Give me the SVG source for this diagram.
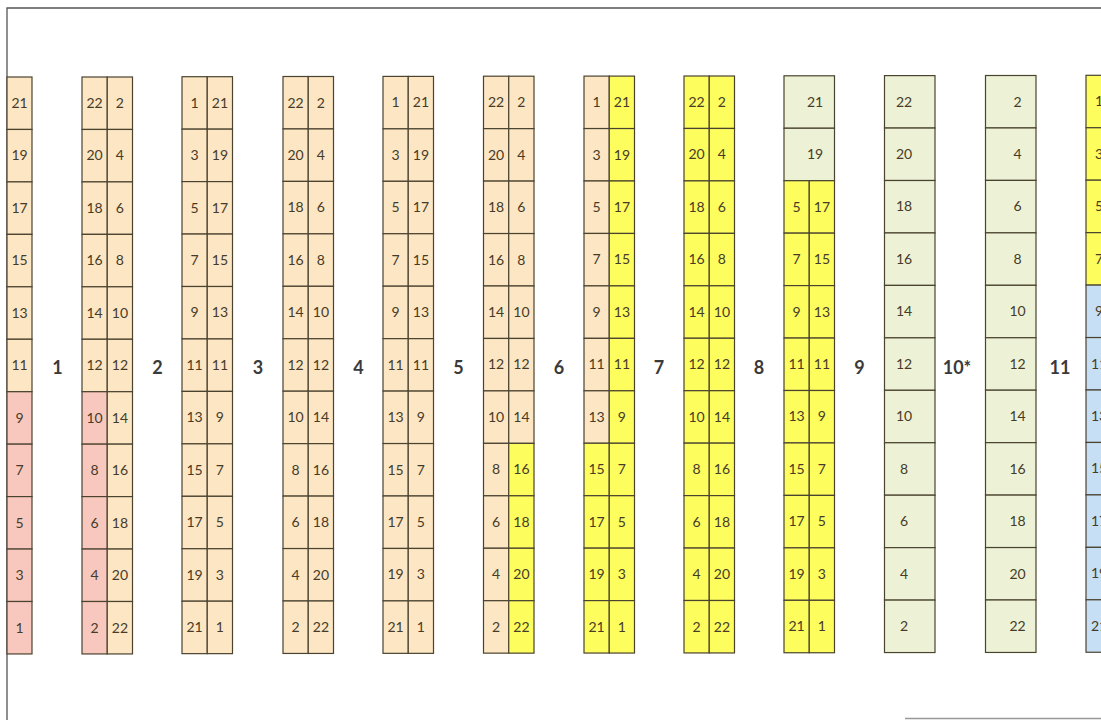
<svg xmlns="http://www.w3.org/2000/svg" width="1101" height="720" viewBox="0 0 1101 720">
<style>
rect{stroke:#4a4330;stroke-width:1.2}
rect.bg{fill:#fff;stroke:none}
.p{fill:#fce6c4}.k{fill:#f8c8be}.y{fill:#fdfd5e}.g{fill:#edf2d6}.b{fill:#c7dff4}
text{font-family:Lato,"Open Sans","Liberation Sans",sans-serif;fill:#463b28;text-anchor:middle}
.t text{font-size:14px}
.l{font-size:18px;font-weight:bold;fill:#3a3a3a}
</style>
<rect class="bg" x="0" y="0" width="1101" height="720"/>
<g id="frame" fill="none" stroke="#555" stroke-width="1.3">
<path d="M7,720 V8 H1101"/>
<path d="M905,718.5 H1101" stroke="#999"/>
</g>

<g id="col-a" class="t" transform="translate(7,77)">
<rect class="p" x="0" y="0" width="25" height="52.45"/>
<rect class="p" x="0" y="52.45" width="25" height="52.45"/>
<rect class="p" x="0" y="104.9" width="25" height="52.45"/>
<rect class="p" x="0" y="157.35" width="25" height="52.45"/>
<rect class="p" x="0" y="209.8" width="25" height="52.45"/>
<rect class="p" x="0" y="262.25" width="25" height="52.45"/>
<rect class="k" x="0" y="314.7" width="25" height="52.45"/>
<rect class="k" x="0" y="367.15" width="25" height="52.45"/>
<rect class="k" x="0" y="419.6" width="25" height="52.45"/>
<rect class="k" x="0" y="472.05" width="25" height="52.45"/>
<rect class="k" x="0" y="524.5" width="25" height="52.45"/>
<text x="12.5" y="31">21</text><text x="12.5" y="83.45">19</text><text x="12.5" y="135.9">17</text><text x="12.5" y="188.35">15</text><text x="12.5" y="240.8">13</text><text x="12.5" y="293.25">11</text><text x="12.5" y="345.7">9</text><text x="12.5" y="398.15">7</text><text x="12.5" y="450.6">5</text><text x="12.5" y="503.05">3</text><text x="12.5" y="555.5">1</text>
</g>

<g id="col-b" class="t" transform="translate(82,77)">
<rect class="p" x="0" y="0" width="25.25" height="52.45"/><rect class="p" x="25.25" y="0" width="25.25" height="52.45"/>
<rect class="p" x="0" y="52.45" width="25.25" height="52.45"/><rect class="p" x="25.25" y="52.45" width="25.25" height="52.45"/>
<rect class="p" x="0" y="104.9" width="25.25" height="52.45"/><rect class="p" x="25.25" y="104.9" width="25.25" height="52.45"/>
<rect class="p" x="0" y="157.35" width="25.25" height="52.45"/><rect class="p" x="25.25" y="157.35" width="25.25" height="52.45"/>
<rect class="p" x="0" y="209.8" width="25.25" height="52.45"/><rect class="p" x="25.25" y="209.8" width="25.25" height="52.45"/>
<rect class="p" x="0" y="262.25" width="25.25" height="52.45"/><rect class="p" x="25.25" y="262.25" width="25.25" height="52.45"/>
<rect class="k" x="0" y="314.7" width="25.25" height="52.45"/><rect class="p" x="25.25" y="314.7" width="25.25" height="52.45"/>
<rect class="k" x="0" y="367.15" width="25.25" height="52.45"/><rect class="p" x="25.25" y="367.15" width="25.25" height="52.45"/>
<rect class="k" x="0" y="419.6" width="25.25" height="52.45"/><rect class="p" x="25.25" y="419.6" width="25.25" height="52.45"/>
<rect class="k" x="0" y="472.05" width="25.25" height="52.45"/><rect class="p" x="25.25" y="472.05" width="25.25" height="52.45"/>
<rect class="k" x="0" y="524.5" width="25.25" height="52.45"/><rect class="p" x="25.25" y="524.5" width="25.25" height="52.45"/>
<text x="12.6" y="31">22</text><text x="12.6" y="83.45">20</text><text x="12.6" y="135.9">18</text><text x="12.6" y="188.35">16</text><text x="12.6" y="240.8">14</text><text x="12.6" y="293.25">12</text><text x="12.6" y="345.7">10</text><text x="12.6" y="398.15">8</text><text x="12.6" y="450.6">6</text><text x="12.6" y="503.05">4</text><text x="12.6" y="555.5">2</text>
<text x="37.9" y="31">2</text><text x="37.9" y="83.45">4</text><text x="37.9" y="135.9">6</text><text x="37.9" y="188.35">8</text><text x="37.9" y="240.8">10</text><text x="37.9" y="293.25">12</text><text x="37.9" y="345.7">14</text><text x="37.9" y="398.15">16</text><text x="37.9" y="450.6">18</text><text x="37.9" y="503.05">20</text><text x="37.9" y="555.5">22</text>
</g>

<g id="col-c" class="t" transform="translate(182,76.7)">
<rect class="p" x="0" y="0" width="25.25" height="52.45"/><rect class="p" x="25.25" y="0" width="25.25" height="52.45"/>
<rect class="p" x="0" y="52.45" width="25.25" height="52.45"/><rect class="p" x="25.25" y="52.45" width="25.25" height="52.45"/>
<rect class="p" x="0" y="104.9" width="25.25" height="52.45"/><rect class="p" x="25.25" y="104.9" width="25.25" height="52.45"/>
<rect class="p" x="0" y="157.35" width="25.25" height="52.45"/><rect class="p" x="25.25" y="157.35" width="25.25" height="52.45"/>
<rect class="p" x="0" y="209.8" width="25.25" height="52.45"/><rect class="p" x="25.25" y="209.8" width="25.25" height="52.45"/>
<rect class="p" x="0" y="262.25" width="25.25" height="52.45"/><rect class="p" x="25.25" y="262.25" width="25.25" height="52.45"/>
<rect class="p" x="0" y="314.7" width="25.25" height="52.45"/><rect class="p" x="25.25" y="314.7" width="25.25" height="52.45"/>
<rect class="p" x="0" y="367.15" width="25.25" height="52.45"/><rect class="p" x="25.25" y="367.15" width="25.25" height="52.45"/>
<rect class="p" x="0" y="419.6" width="25.25" height="52.45"/><rect class="p" x="25.25" y="419.6" width="25.25" height="52.45"/>
<rect class="p" x="0" y="472.05" width="25.25" height="52.45"/><rect class="p" x="25.25" y="472.05" width="25.25" height="52.45"/>
<rect class="p" x="0" y="524.5" width="25.25" height="52.45"/><rect class="p" x="25.25" y="524.5" width="25.25" height="52.45"/>
<text x="12.6" y="31">1</text><text x="12.6" y="83.45">3</text><text x="12.6" y="135.9">5</text><text x="12.6" y="188.35">7</text><text x="12.6" y="240.8">9</text><text x="12.6" y="293.25">11</text><text x="12.6" y="345.7">13</text><text x="12.6" y="398.15">15</text><text x="12.6" y="450.6">17</text><text x="12.6" y="503.05">19</text><text x="12.6" y="555.5">21</text>
<text x="37.9" y="31">21</text><text x="37.9" y="83.45">19</text><text x="37.9" y="135.9">17</text><text x="37.9" y="188.35">15</text><text x="37.9" y="240.8">13</text><text x="37.9" y="293.25">11</text><text x="37.9" y="345.7">9</text><text x="37.9" y="398.15">7</text><text x="37.9" y="450.6">5</text><text x="37.9" y="503.05">3</text><text x="37.9" y="555.5">1</text>
</g>

<g id="col-d" class="t" transform="translate(283,76.5)">
<rect class="p" x="0" y="0" width="25.25" height="52.45"/><rect class="p" x="25.25" y="0" width="25.25" height="52.45"/>
<rect class="p" x="0" y="52.45" width="25.25" height="52.45"/><rect class="p" x="25.25" y="52.45" width="25.25" height="52.45"/>
<rect class="p" x="0" y="104.9" width="25.25" height="52.45"/><rect class="p" x="25.25" y="104.9" width="25.25" height="52.45"/>
<rect class="p" x="0" y="157.35" width="25.25" height="52.45"/><rect class="p" x="25.25" y="157.35" width="25.25" height="52.45"/>
<rect class="p" x="0" y="209.8" width="25.25" height="52.45"/><rect class="p" x="25.25" y="209.8" width="25.25" height="52.45"/>
<rect class="p" x="0" y="262.25" width="25.25" height="52.45"/><rect class="p" x="25.25" y="262.25" width="25.25" height="52.45"/>
<rect class="p" x="0" y="314.7" width="25.25" height="52.45"/><rect class="p" x="25.25" y="314.7" width="25.25" height="52.45"/>
<rect class="p" x="0" y="367.15" width="25.25" height="52.45"/><rect class="p" x="25.25" y="367.15" width="25.25" height="52.45"/>
<rect class="p" x="0" y="419.6" width="25.25" height="52.45"/><rect class="p" x="25.25" y="419.6" width="25.25" height="52.45"/>
<rect class="p" x="0" y="472.05" width="25.25" height="52.45"/><rect class="p" x="25.25" y="472.05" width="25.25" height="52.45"/>
<rect class="p" x="0" y="524.5" width="25.25" height="52.45"/><rect class="p" x="25.25" y="524.5" width="25.25" height="52.45"/>
<text x="12.6" y="31">22</text><text x="12.6" y="83.45">20</text><text x="12.6" y="135.9">18</text><text x="12.6" y="188.35">16</text><text x="12.6" y="240.8">14</text><text x="12.6" y="293.25">12</text><text x="12.6" y="345.7">10</text><text x="12.6" y="398.15">8</text><text x="12.6" y="450.6">6</text><text x="12.6" y="503.05">4</text><text x="12.6" y="555.5">2</text>
<text x="37.9" y="31">2</text><text x="37.9" y="83.45">4</text><text x="37.9" y="135.9">6</text><text x="37.9" y="188.35">8</text><text x="37.9" y="240.8">10</text><text x="37.9" y="293.25">12</text><text x="37.9" y="345.7">14</text><text x="37.9" y="398.15">16</text><text x="37.9" y="450.6">18</text><text x="37.9" y="503.05">20</text><text x="37.9" y="555.5">22</text>
</g>

<g id="col-e" class="t" transform="translate(383,76.4)">
<rect class="p" x="0" y="0" width="25.25" height="52.45"/><rect class="p" x="25.25" y="0" width="25.25" height="52.45"/>
<rect class="p" x="0" y="52.45" width="25.25" height="52.45"/><rect class="p" x="25.25" y="52.45" width="25.25" height="52.45"/>
<rect class="p" x="0" y="104.9" width="25.25" height="52.45"/><rect class="p" x="25.25" y="104.9" width="25.25" height="52.45"/>
<rect class="p" x="0" y="157.35" width="25.25" height="52.45"/><rect class="p" x="25.25" y="157.35" width="25.25" height="52.45"/>
<rect class="p" x="0" y="209.8" width="25.25" height="52.45"/><rect class="p" x="25.25" y="209.8" width="25.25" height="52.45"/>
<rect class="p" x="0" y="262.25" width="25.25" height="52.45"/><rect class="p" x="25.25" y="262.25" width="25.25" height="52.45"/>
<rect class="p" x="0" y="314.7" width="25.25" height="52.45"/><rect class="p" x="25.25" y="314.7" width="25.25" height="52.45"/>
<rect class="p" x="0" y="367.15" width="25.25" height="52.45"/><rect class="p" x="25.25" y="367.15" width="25.25" height="52.45"/>
<rect class="p" x="0" y="419.6" width="25.25" height="52.45"/><rect class="p" x="25.25" y="419.6" width="25.25" height="52.45"/>
<rect class="p" x="0" y="472.05" width="25.25" height="52.45"/><rect class="p" x="25.25" y="472.05" width="25.25" height="52.45"/>
<rect class="p" x="0" y="524.5" width="25.25" height="52.45"/><rect class="p" x="25.25" y="524.5" width="25.25" height="52.45"/>
<text x="12.6" y="31">1</text><text x="12.6" y="83.45">3</text><text x="12.6" y="135.9">5</text><text x="12.6" y="188.35">7</text><text x="12.6" y="240.8">9</text><text x="12.6" y="293.25">11</text><text x="12.6" y="345.7">13</text><text x="12.6" y="398.15">15</text><text x="12.6" y="450.6">17</text><text x="12.6" y="503.05">19</text><text x="12.6" y="555.5">21</text>
<text x="37.9" y="31">21</text><text x="37.9" y="83.45">19</text><text x="37.9" y="135.9">17</text><text x="37.9" y="188.35">15</text><text x="37.9" y="240.8">13</text><text x="37.9" y="293.25">11</text><text x="37.9" y="345.7">9</text><text x="37.9" y="398.15">7</text><text x="37.9" y="450.6">5</text><text x="37.9" y="503.05">3</text><text x="37.9" y="555.5">1</text>
</g>

<g id="col-f" class="t" transform="translate(483.5,76.2)">
<rect class="p" x="0" y="0" width="25.25" height="52.45"/><rect class="p" x="25.25" y="0" width="25.25" height="52.45"/>
<rect class="p" x="0" y="52.45" width="25.25" height="52.45"/><rect class="p" x="25.25" y="52.45" width="25.25" height="52.45"/>
<rect class="p" x="0" y="104.9" width="25.25" height="52.45"/><rect class="p" x="25.25" y="104.9" width="25.25" height="52.45"/>
<rect class="p" x="0" y="157.35" width="25.25" height="52.45"/><rect class="p" x="25.25" y="157.35" width="25.25" height="52.45"/>
<rect class="p" x="0" y="209.8" width="25.25" height="52.45"/><rect class="p" x="25.25" y="209.8" width="25.25" height="52.45"/>
<rect class="p" x="0" y="262.25" width="25.25" height="52.45"/><rect class="p" x="25.25" y="262.25" width="25.25" height="52.45"/>
<rect class="p" x="0" y="314.7" width="25.25" height="52.45"/><rect class="p" x="25.25" y="314.7" width="25.25" height="52.45"/>
<rect class="p" x="0" y="367.15" width="25.25" height="52.45"/><rect class="y" x="25.25" y="367.15" width="25.25" height="52.45"/>
<rect class="p" x="0" y="419.6" width="25.25" height="52.45"/><rect class="y" x="25.25" y="419.6" width="25.25" height="52.45"/>
<rect class="p" x="0" y="472.05" width="25.25" height="52.45"/><rect class="y" x="25.25" y="472.05" width="25.25" height="52.45"/>
<rect class="p" x="0" y="524.5" width="25.25" height="52.45"/><rect class="y" x="25.25" y="524.5" width="25.25" height="52.45"/>
<text x="12.6" y="31">22</text><text x="12.6" y="83.45">20</text><text x="12.6" y="135.9">18</text><text x="12.6" y="188.35">16</text><text x="12.6" y="240.8">14</text><text x="12.6" y="293.25">12</text><text x="12.6" y="345.7">10</text><text x="12.6" y="398.15">8</text><text x="12.6" y="450.6">6</text><text x="12.6" y="503.05">4</text><text x="12.6" y="555.5">2</text>
<text x="37.9" y="31">2</text><text x="37.9" y="83.45">4</text><text x="37.9" y="135.9">6</text><text x="37.9" y="188.35">8</text><text x="37.9" y="240.8">10</text><text x="37.9" y="293.25">12</text><text x="37.9" y="345.7">14</text><text x="37.9" y="398.15">16</text><text x="37.9" y="450.6">18</text><text x="37.9" y="503.05">20</text><text x="37.9" y="555.5">22</text>
</g>

<g id="col-g" class="t" transform="translate(584,76.1)">
<rect class="p" x="0" y="0" width="25.25" height="52.45"/><rect class="y" x="25.25" y="0" width="25.25" height="52.45"/>
<rect class="p" x="0" y="52.45" width="25.25" height="52.45"/><rect class="y" x="25.25" y="52.45" width="25.25" height="52.45"/>
<rect class="p" x="0" y="104.9" width="25.25" height="52.45"/><rect class="y" x="25.25" y="104.9" width="25.25" height="52.45"/>
<rect class="p" x="0" y="157.35" width="25.25" height="52.45"/><rect class="y" x="25.25" y="157.35" width="25.25" height="52.45"/>
<rect class="p" x="0" y="209.8" width="25.25" height="52.45"/><rect class="y" x="25.25" y="209.8" width="25.25" height="52.45"/>
<rect class="p" x="0" y="262.25" width="25.25" height="52.45"/><rect class="y" x="25.25" y="262.25" width="25.25" height="52.45"/>
<rect class="p" x="0" y="314.7" width="25.25" height="52.45"/><rect class="y" x="25.25" y="314.7" width="25.25" height="52.45"/>
<rect class="y" x="0" y="367.15" width="25.25" height="52.45"/><rect class="y" x="25.25" y="367.15" width="25.25" height="52.45"/>
<rect class="y" x="0" y="419.6" width="25.25" height="52.45"/><rect class="y" x="25.25" y="419.6" width="25.25" height="52.45"/>
<rect class="y" x="0" y="472.05" width="25.25" height="52.45"/><rect class="y" x="25.25" y="472.05" width="25.25" height="52.45"/>
<rect class="y" x="0" y="524.5" width="25.25" height="52.45"/><rect class="y" x="25.25" y="524.5" width="25.25" height="52.45"/>
<text x="12.6" y="31">1</text><text x="12.6" y="83.45">3</text><text x="12.6" y="135.9">5</text><text x="12.6" y="188.35">7</text><text x="12.6" y="240.8">9</text><text x="12.6" y="293.25">11</text><text x="12.6" y="345.7">13</text><text x="12.6" y="398.15">15</text><text x="12.6" y="450.6">17</text><text x="12.6" y="503.05">19</text><text x="12.6" y="555.5">21</text>
<text x="37.9" y="31">21</text><text x="37.9" y="83.45">19</text><text x="37.9" y="135.9">17</text><text x="37.9" y="188.35">15</text><text x="37.9" y="240.8">13</text><text x="37.9" y="293.25">11</text><text x="37.9" y="345.7">9</text><text x="37.9" y="398.15">7</text><text x="37.9" y="450.6">5</text><text x="37.9" y="503.05">3</text><text x="37.9" y="555.5">1</text>
</g>

<g id="col-h" class="t" transform="translate(684,76)">
<rect class="y" x="0" y="0" width="25.25" height="52.45"/><rect class="y" x="25.25" y="0" width="25.25" height="52.45"/>
<rect class="y" x="0" y="52.45" width="25.25" height="52.45"/><rect class="y" x="25.25" y="52.45" width="25.25" height="52.45"/>
<rect class="y" x="0" y="104.9" width="25.25" height="52.45"/><rect class="y" x="25.25" y="104.9" width="25.25" height="52.45"/>
<rect class="y" x="0" y="157.35" width="25.25" height="52.45"/><rect class="y" x="25.25" y="157.35" width="25.25" height="52.45"/>
<rect class="y" x="0" y="209.8" width="25.25" height="52.45"/><rect class="y" x="25.25" y="209.8" width="25.25" height="52.45"/>
<rect class="y" x="0" y="262.25" width="25.25" height="52.45"/><rect class="y" x="25.25" y="262.25" width="25.25" height="52.45"/>
<rect class="y" x="0" y="314.7" width="25.25" height="52.45"/><rect class="y" x="25.25" y="314.7" width="25.25" height="52.45"/>
<rect class="y" x="0" y="367.15" width="25.25" height="52.45"/><rect class="y" x="25.25" y="367.15" width="25.25" height="52.45"/>
<rect class="y" x="0" y="419.6" width="25.25" height="52.45"/><rect class="y" x="25.25" y="419.6" width="25.25" height="52.45"/>
<rect class="y" x="0" y="472.05" width="25.25" height="52.45"/><rect class="y" x="25.25" y="472.05" width="25.25" height="52.45"/>
<rect class="y" x="0" y="524.5" width="25.25" height="52.45"/><rect class="y" x="25.25" y="524.5" width="25.25" height="52.45"/>
<text x="12.6" y="31">22</text><text x="12.6" y="83.45">20</text><text x="12.6" y="135.9">18</text><text x="12.6" y="188.35">16</text><text x="12.6" y="240.8">14</text><text x="12.6" y="293.25">12</text><text x="12.6" y="345.7">10</text><text x="12.6" y="398.15">8</text><text x="12.6" y="450.6">6</text><text x="12.6" y="503.05">4</text><text x="12.6" y="555.5">2</text>
<text x="37.9" y="31">2</text><text x="37.9" y="83.45">4</text><text x="37.9" y="135.9">6</text><text x="37.9" y="188.35">8</text><text x="37.9" y="240.8">10</text><text x="37.9" y="293.25">12</text><text x="37.9" y="345.7">14</text><text x="37.9" y="398.15">16</text><text x="37.9" y="450.6">18</text><text x="37.9" y="503.05">20</text><text x="37.9" y="555.5">22</text>
</g>

<g id="col-i" class="t" transform="translate(784,75.8)">
<rect class="g" x="0" y="0" width="50.5" height="52.45"/>
<rect class="g" x="0" y="52.45" width="50.5" height="52.45"/>
<rect class="y" x="0" y="104.9" width="25.25" height="52.45"/><rect class="y" x="25.25" y="104.9" width="25.25" height="52.45"/>
<rect class="y" x="0" y="157.35" width="25.25" height="52.45"/><rect class="y" x="25.25" y="157.35" width="25.25" height="52.45"/>
<rect class="y" x="0" y="209.8" width="25.25" height="52.45"/><rect class="y" x="25.25" y="209.8" width="25.25" height="52.45"/>
<rect class="y" x="0" y="262.25" width="25.25" height="52.45"/><rect class="y" x="25.25" y="262.25" width="25.25" height="52.45"/>
<rect class="y" x="0" y="314.7" width="25.25" height="52.45"/><rect class="y" x="25.25" y="314.7" width="25.25" height="52.45"/>
<rect class="y" x="0" y="367.15" width="25.25" height="52.45"/><rect class="y" x="25.25" y="367.15" width="25.25" height="52.45"/>
<rect class="y" x="0" y="419.6" width="25.25" height="52.45"/><rect class="y" x="25.25" y="419.6" width="25.25" height="52.45"/>
<rect class="y" x="0" y="472.05" width="25.25" height="52.45"/><rect class="y" x="25.25" y="472.05" width="25.25" height="52.45"/>
<rect class="y" x="0" y="524.5" width="25.25" height="52.45"/><rect class="y" x="25.25" y="524.5" width="25.25" height="52.45"/>
<text x="31" y="31">21</text><text x="31" y="83.45">19</text>
<text x="12.6" y="135.9">5</text><text x="12.6" y="188.35">7</text><text x="12.6" y="240.8">9</text><text x="12.6" y="293.25">11</text><text x="12.6" y="345.7">13</text><text x="12.6" y="398.15">15</text><text x="12.6" y="450.6">17</text><text x="12.6" y="503.05">19</text><text x="12.6" y="555.5">21</text>
<text x="37.9" y="135.9">17</text><text x="37.9" y="188.35">15</text><text x="37.9" y="240.8">13</text><text x="37.9" y="293.25">11</text><text x="37.9" y="345.7">9</text><text x="37.9" y="398.15">7</text><text x="37.9" y="450.6">5</text><text x="37.9" y="503.05">3</text><text x="37.9" y="555.5">1</text>
</g>

<g id="col-j" class="t" transform="translate(884.5,75.6)">
<rect class="g" x="0" y="0" width="50.5" height="52.45"/>
<rect class="g" x="0" y="52.45" width="50.5" height="52.45"/>
<rect class="g" x="0" y="104.9" width="50.5" height="52.45"/>
<rect class="g" x="0" y="157.35" width="50.5" height="52.45"/>
<rect class="g" x="0" y="209.8" width="50.5" height="52.45"/>
<rect class="g" x="0" y="262.25" width="50.5" height="52.45"/>
<rect class="g" x="0" y="314.7" width="50.5" height="52.45"/>
<rect class="g" x="0" y="367.15" width="50.5" height="52.45"/>
<rect class="g" x="0" y="419.6" width="50.5" height="52.45"/>
<rect class="g" x="0" y="472.05" width="50.5" height="52.45"/>
<rect class="g" x="0" y="524.5" width="50.5" height="52.45"/>
<text x="19.5" y="31">22</text><text x="19.5" y="83.45">20</text><text x="19.5" y="135.9">18</text><text x="19.5" y="188.35">16</text><text x="19.5" y="240.8">14</text><text x="19.5" y="293.25">12</text><text x="19.5" y="345.7">10</text><text x="19.5" y="398.15">8</text><text x="19.5" y="450.6">6</text><text x="19.5" y="503.05">4</text><text x="19.5" y="555.5">2</text>
</g>

<g id="col-k" class="t" transform="translate(985.5,75.5)">
<rect class="g" x="0" y="0" width="50.5" height="52.45"/>
<rect class="g" x="0" y="52.45" width="50.5" height="52.45"/>
<rect class="g" x="0" y="104.9" width="50.5" height="52.45"/>
<rect class="g" x="0" y="157.35" width="50.5" height="52.45"/>
<rect class="g" x="0" y="209.8" width="50.5" height="52.45"/>
<rect class="g" x="0" y="262.25" width="50.5" height="52.45"/>
<rect class="g" x="0" y="314.7" width="50.5" height="52.45"/>
<rect class="g" x="0" y="367.15" width="50.5" height="52.45"/>
<rect class="g" x="0" y="419.6" width="50.5" height="52.45"/>
<rect class="g" x="0" y="472.05" width="50.5" height="52.45"/>
<rect class="g" x="0" y="524.5" width="50.5" height="52.45"/>
<text x="32" y="31">2</text><text x="32" y="83.45">4</text><text x="32" y="135.9">6</text><text x="32" y="188.35">8</text><text x="32" y="240.8">10</text><text x="32" y="293.25">12</text><text x="32" y="345.7">14</text><text x="32" y="398.15">16</text><text x="32" y="450.6">18</text><text x="32" y="503.05">20</text><text x="32" y="555.5">22</text>
</g>

<g id="col-l" class="t" transform="translate(1086,75.3)">
<rect class="y" x="0" y="0" width="50.5" height="52.45"/>
<rect class="y" x="0" y="52.45" width="50.5" height="52.45"/>
<rect class="y" x="0" y="104.9" width="50.5" height="52.45"/>
<rect class="y" x="0" y="157.35" width="50.5" height="52.45"/>
<rect class="b" x="0" y="209.8" width="50.5" height="52.45"/>
<rect class="b" x="0" y="262.25" width="50.5" height="52.45"/>
<rect class="b" x="0" y="314.7" width="50.5" height="52.45"/>
<rect class="b" x="0" y="367.15" width="50.5" height="52.45"/>
<rect class="b" x="0" y="419.6" width="50.5" height="52.45"/>
<rect class="b" x="0" y="472.05" width="50.5" height="52.45"/>
<rect class="b" x="0" y="524.5" width="50.5" height="52.45"/>
<text x="13" y="31">1</text><text x="13" y="83.45">3</text><text x="13" y="135.9">5</text><text x="13" y="188.35">7</text><text x="13" y="240.8">9</text><text x="13" y="293.25">11</text><text x="13" y="345.7">13</text><text x="13" y="398.15">15</text><text x="13" y="450.6">17</text><text x="13" y="503.05">19</text><text x="13" y="555.5">21</text>
</g>

<g id="labels">
<text class="l" x="57.5" y="374">1</text>
<text class="l" x="157.5" y="374">2</text>
<text class="l" x="258" y="374">3</text>
<text class="l" x="358.5" y="374">4</text>
<text class="l" x="458.5" y="374">5</text>
<text class="l" x="559" y="374">6</text>
<text class="l" x="659" y="374">7</text>
<text class="l" x="759" y="374">8</text>
<text class="l" x="859.5" y="374">9</text>
<text class="l" x="957" y="374">10*</text>
<text class="l" x="1060" y="374">11</text>
</g>
</svg>
